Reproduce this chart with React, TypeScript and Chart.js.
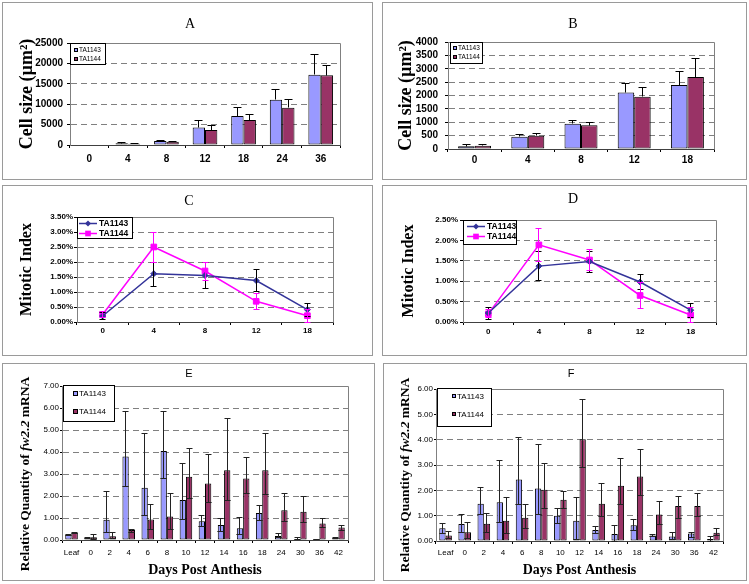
import React, { useEffect, useRef } from 'react';
import { Chart, registerables } from 'chart.js';

Chart.register(...registerables);

const SERIF = '"Liberation Serif", "Times New Roman", Times, serif';
const SANS = '"Liberation Sans", Arial, Helvetica, sans-serif';

const SERIES_1 = 'TA1143';
const SERIES_2 = 'TA1144';
const BAR_1 = '#9999FF';
const BAR_2 = '#993366';
const LINE_1 = '#333399';
const LINE_2 = '#FF00FF';

// ---------- Panel A: cell size (µm²) ----------
const A_DAYS = ['0', '4', '8', '12', '18', '24', '36'];
const A_TA1143 = [0, 450, 1000, 4300, 7100, 11100, 17200];
const A_TA1143_HI = [0, 600, 1150, 5900, 9200, 13600, 22100];
const A_TA1144 = [0, 300, 800, 3650, 6100, 9100, 17100];
const A_TA1144_HI = [0, 420, 950, 4900, 7500, 11100, 19600];
const A_Y_MAX = 25000;
const A_Y_STEP = 5000;

// ---------- Panel B: cell size (µm²) ----------
const B_DAYS = ['0', '4', '8', '12', '18'];
const B_TA1143 = [100, 460, 940, 2110, 2390];
const B_TA1143_HI = [160, 550, 1060, 2460, 2900];
const B_TA1144 = [120, 500, 890, 1950, 2690];
const B_TA1144_HI = [160, 590, 990, 2300, 3400];
const B_Y_MAX = 4000;
const B_Y_STEP = 500;

// ---------- Panel C: mitotic index (%) ----------
const C_DAYS = ['0', '4', '8', '12', '18'];
const C_TA1143 = [0.2, 1.61, 1.55, 1.38, 0.41];
const C_TA1143_LO = [0.07, 1.2, 1.12, 1.01, 0.2];
const C_TA1143_HI = [0.33, 2.0, 1.97, 1.74, 0.62];
const C_TA1144 = [0.25, 2.5, 1.7, 0.69, 0.21];
const C_TA1144_LO = [0.15, 2.0, 1.4, 0.43, 0.0];
const C_TA1144_HI = [0.35, 3.0, 2.0, 0.95, 0.42];
const C_Y_MAX = 3.5;
const C_Y_STEP = 0.5;

// ---------- Panel D: mitotic index (%) ----------
const D_DAYS = ['0', '4', '8', '12', '18'];
const D_TA1143 = [0.22, 1.37, 1.48, 0.98, 0.29];
const D_TA1143_LO = [0.05, 1.02, 1.22, 0.8, 0.1];
const D_TA1143_HI = [0.35, 1.72, 1.72, 1.17, 0.46];
const D_TA1144 = [0.2, 1.89, 1.52, 0.65, 0.17];
const D_TA1144_LO = [0.1, 1.48, 1.27, 0.33, 0.0];
const D_TA1144_HI = [0.3, 2.3, 1.77, 0.97, 0.35];
const D_Y_MAX = 2.5;
const D_Y_STEP = 0.5;

// ---------- Panel E: relative quantity of fw2.2 mRNA ----------
const E_DAYS = ['Leaf', '0', '2', '4', '6', '8', '10', '12', '14', '16', '18', '24', '30', '36', '42'];
const E_TA1143 = [0.25, 0.08, 0.92, 3.8, 2.38, 4.05, 1.82, 0.85, 0.68, 0.53, 1.23, 0.18, 0.05, 0.02, 0.08];
const E_TA1143_HI = [0.27, 0.1, 2.2, 5.85, 4.85, 5.85, 3.5, 1.1, 1.0, 1.02, 1.55, 0.3, 0.1, 0.03, 0.12];
const E_TA1143_LO = [0.22, 0.05, 0.35, 2.45, 1.1, 2.8, 0.95, 0.6, 0.4, 0.25, 0.9, 0.1, 0.02, 0.01, 0.05];
const E_TA1144 = [0.32, 0.12, 0.17, 0.45, 0.93, 1.07, 2.88, 2.57, 3.17, 2.8, 3.17, 1.35, 1.28, 0.75, 0.57];
const E_TA1144_HI = [0.34, 0.25, 0.35, 0.5, 1.63, 2.12, 4.15, 3.9, 5.53, 3.75, 4.85, 2.12, 2.0, 0.97, 0.68];
const E_TA1144_LO = [0.3, 0.02, 0.05, 0.35, 0.5, 0.5, 1.9, 1.7, 1.8, 2.1, 2.05, 0.85, 0.8, 0.55, 0.45];
const E_Y_MAX = 7;
const E_Y_STEP = 1;

// ---------- Panel F: relative quantity of fw2.2 mRNA ----------
const F_DAYS = ['Leaf', '0', '2', '4', '6', '8', '10', '12', '14', '16', '18', '24', '30', '36', '42'];
const F_TA1143 = [0.5, 0.67, 1.47, 1.53, 2.43, 2.07, 1.0, 0.8, 0.43, 0.28, 0.62, 0.22, 0.18, 0.3, 0.08];
const F_TA1143_HI = [0.68, 1.03, 2.12, 3.18, 4.08, 3.82, 1.28, 1.72, 0.57, 0.62, 0.85, 0.25, 0.33, 0.33, 0.18];
const F_TA1143_LO = [0.3, 0.35, 1.05, 0.72, 1.45, 1.05, 0.7, 0.05, 0.3, 0.0, 0.4, 0.18, 0.05, 0.15, 0.0];
const F_TA1144 = [0.22, 0.35, 0.68, 0.8, 0.92, 2.02, 1.63, 4.02, 1.47, 2.18, 2.55, 1.05, 1.38, 1.38, 0.33];
const F_TA1144_HI = [0.38, 0.73, 1.07, 1.72, 1.45, 3.07, 1.97, 5.6, 2.28, 3.27, 3.63, 1.57, 1.75, 1.87, 0.5];
const F_TA1144_LO = [0.1, 0.1, 0.35, 0.3, 0.5, 1.3, 1.3, 2.9, 0.95, 1.45, 1.8, 0.65, 0.9, 0.95, 0.2];
const F_Y_MAX = 6;
const F_Y_STEP = 1;

const fmtInt = (v: number) => String(Math.round(v));
const fmtPct = (v: number) => v.toFixed(2) + '%';
const fmt2 = (v: number) => v.toFixed(2);

type FontSpec = { family: string; size: number; weight: string };
type Spec = {
  panel: { x: number; y: number; w: number; h: number };
  plot: { l: number; t: number; r: number; b: number };
  title: { text: string; cx: number; cy: number; size: number; family: string };
  yTitle?: { text: string; cx: number; size: number };
  yLabelRight: number;
  yTickLen: number;
  yTickFont: FontSpec;
  xLabelCy: number;
  xTickLen: number;
  xTickFont: FontSpec;
  xTitle?: { text: string; cy: number; size: number };
};

// ---------- plugins ----------
const framePlugin = {
  id: 'plotFrame',
  beforeDatasetsDraw(chart: any) {
    const { ctx, chartArea: ca } = chart;
    const r = Math.round(ca.right - 0.5) + 0.5;
    const t = Math.round(ca.top - 0.5) + 0.5;
    const b = Math.round(ca.bottom - 0.5) + 0.5;
    const l = Math.round(ca.left - 0.5) + 0.5;
    ctx.save();
    ctx.strokeStyle = '#808080';
    ctx.lineWidth = 1;
    ctx.beginPath();
    ctx.moveTo(l, t);
    ctx.lineTo(r, t);
    ctx.lineTo(r, b);
    ctx.stroke();
    ctx.restore();
  },
};

const errorBarPlugin = {
  id: 'errorBars',
  afterDatasetsDraw(chart: any) {
    const ctx = chart.ctx;
    const ys = chart.scales.y;
    chart.data.datasets.forEach((ds: any, i: number) => {
      if (!ds.errHi) return;
      const meta = chart.getDatasetMeta(i);
      ctx.save();
      ctx.strokeStyle = ds.errColor || '#000';
      ctx.lineWidth = 1;
      meta.data.forEach((el: any, j: number) => {
        const v = ds.data[j];
        const hi = ds.errHi[j];
        const lo = ds.errLo ? ds.errLo[j] : v;
        if (hi === lo) return;
        const x = Math.round(el.x - 0.5) + 0.5;
        const yHi = Math.round(ys.getPixelForValue(hi) - 0.5) + 0.5;
        const yLo = Math.round(ys.getPixelForValue(lo) - 0.5) + 0.5;
        const cap = ds.errCap || 6;
        ctx.beginPath();
        ctx.moveTo(x, yLo);
        ctx.lineTo(x, yHi);
        ctx.moveTo(x - cap / 2, yHi);
        ctx.lineTo(x + cap / 2, yHi);
        if (ds.errLo) {
          const capLo = ds.errCapLo === 'bar' && el.width ? el.width : cap;
          ctx.moveTo(x - capLo / 2, yLo);
          ctx.lineTo(x + capLo / 2, yLo);
        }
        ctx.stroke();
      });
      ctx.restore();
    });
  },
};

function makePanelTitlePlugin(s: Spec) {
  return {
    id: 'panelTitle',
    afterDraw(chart: any) {
      const ctx = chart.ctx;
      ctx.save();
      ctx.fillStyle = '#000';
      ctx.font = `${s.title.size}px ${s.title.family}`;
      ctx.textAlign = 'center';
      ctx.textBaseline = 'middle';
      ctx.fillText(s.title.text, s.title.cx - s.panel.x, s.title.cy - s.panel.y);
      ctx.restore();
    },
  };
}

type LegendCfg = {
  kind: 'rect' | 'line';
  dx: number; dy: number; w: number; h: number;
  rows: number[];
  textDx: number;
  font: string;
  markerDx?: number; marker?: number;
  lineDx1?: number; lineDx2?: number;
};

function makeLegendPlugin(cfg: LegendCfg) {
  return {
    id: 'boxLegend',
    afterDraw(chart: any) {
      const { ctx, chartArea: ca } = chart;
      const x0 = Math.round(ca.left + cfg.dx) + 0.5;
      const y0 = Math.round(ca.top + cfg.dy) + 0.5;
      ctx.save();
      ctx.fillStyle = '#fff';
      ctx.fillRect(x0, y0, cfg.w, cfg.h);
      ctx.strokeStyle = '#000';
      ctx.lineWidth = 1;
      ctx.strokeRect(x0, y0, cfg.w, cfg.h);
      chart.data.datasets.forEach((ds: any, i: number) => {
        const ry = Math.round(ca.top + cfg.dy + cfg.rows[i]);
        if (cfg.kind === 'rect') {
          const s = cfg.marker || 4;
          const mx = Math.round(ca.left + (cfg.markerDx || 0));
          const my = Math.round(ry - s / 2);
          ctx.fillStyle = ds.backgroundColor;
          ctx.fillRect(mx, my, s, s);
          ctx.strokeStyle = '#000';
          ctx.lineWidth = 1;
          ctx.strokeRect(mx + 0.5, my + 0.5, s - 1, s - 1);
        } else {
          const x1 = ca.left + (cfg.lineDx1 || 0);
          const x2 = ca.left + (cfg.lineDx2 || 0);
          const cy = ry + 0.5;
          ctx.strokeStyle = ds.borderColor;
          ctx.lineWidth = 1.5;
          ctx.beginPath();
          ctx.moveTo(x1, cy);
          ctx.lineTo(x2, cy);
          ctx.stroke();
          const mx = (x1 + x2) / 2;
          const r = ds.pointRadius || 3;
          ctx.fillStyle = ds.pointBackgroundColor;
          ctx.beginPath();
          if (ds.pointStyle === 'rectRot') {
            ctx.moveTo(mx, cy - r);
            ctx.lineTo(mx + r, cy);
            ctx.lineTo(mx, cy + r);
            ctx.lineTo(mx - r, cy);
            ctx.closePath();
          } else {
            const h = r * Math.SQRT1_2;
            ctx.rect(mx - h, cy - h, 2 * h, 2 * h);
          }
          ctx.fill();
        }
        ctx.fillStyle = '#000';
        ctx.font = cfg.font;
        ctx.textAlign = 'left';
        ctx.textBaseline = 'middle';
        ctx.fillText(ds.label, Math.round(ca.left + cfg.textDx), ry + 0.5);
      });
      ctx.restore();
    },
  };
}

type RichPart = { text: string; style: string };
function makeRichYTitlePlugin(x: number, y: number, size: number, parts: RichPart[]) {
  return {
    id: 'richYTitle',
    afterDraw(chart: any) {
      const ctx = chart.ctx;
      ctx.save();
      ctx.translate(x, y);
      ctx.rotate(-Math.PI / 2);
      ctx.fillStyle = '#000';
      ctx.textBaseline = 'middle';
      ctx.textAlign = 'left';
      let total = 0;
      parts.forEach((p) => {
        ctx.font = `${p.style} ${size}px ${SERIF}`;
        total += ctx.measureText(p.text).width;
      });
      let cx = -total / 2;
      parts.forEach((p) => {
        ctx.font = `${p.style} ${size}px ${SERIF}`;
        ctx.fillText(p.text, cx, 0);
        cx += ctx.measureText(p.text).width;
      });
      ctx.restore();
    },
  };
}

function makeOptions(s: Spec, yMax: number, yStep: number, yFmt: (v: number) => string) {
  const W = s.panel.w;
  const H = s.panel.h;
  const pl = s.plot.l - s.panel.x;
  const pt = s.plot.t - s.panel.y;
  const pr = s.plot.r - s.panel.x;
  const pb = s.plot.b - s.panel.y;
  const padL = s.yTitle ? s.yTitle.cx - s.panel.x - s.yTitle.size / 2 - 1 : 2;
  const padR = W - pr;
  const padB = s.xTitle ? H - (s.xTitle.cy - s.panel.y) - s.xTitle.size / 2 : 0;
  const yWidth = pl - padL;
  const xHeight = H - padB - pb;
  const yTitlePad = s.yTitle ? s.yTitle.cx - s.panel.x - padL - s.yTitle.size / 2 : 0;
  const yTickPad = pl - s.yTickLen - (s.yLabelRight - s.panel.x);
  const xTickPad = s.xLabelCy - s.panel.y - pb - s.xTickLen - s.xTickFont.size / 2;
  return {
    responsive: false,
    maintainAspectRatio: false,
    animation: false,
    devicePixelRatio: 1,
    events: [],
    layout: { padding: { left: padL, right: padR, top: pt, bottom: padB } },
    plugins: {
      legend: { display: false },
      tooltip: { enabled: false },
      title: { display: false },
    },
    scales: {
      x: {
        offset: true,
        grid: {
          display: true,
          offset: true,
          drawOnChartArea: false,
          drawTicks: s.xTickLen > 0,
          tickLength: s.xTickLen,
          tickColor: '#000',
          tickWidth: 1,
        },
        border: { display: true, color: '#404040', width: 1 },
        ticks: {
          color: '#000',
          font: { ...s.xTickFont, lineHeight: 1 },
          padding: xTickPad,
          maxRotation: 0,
          minRotation: 0,
          autoSkip: false,
        },
        title: s.xTitle
          ? {
              display: true,
              text: s.xTitle.text,
              color: '#000',
              font: { family: SERIF, size: s.xTitle.size, weight: 'bold', lineHeight: 1 },
              padding: 0,
            }
          : { display: false },
        afterFit: (sc: any) => {
          sc.height = xHeight;
        },
      },
      y: {
        min: 0,
        max: yMax,
        grid: {
          color: '#808080',
          lineWidth: 1,
          drawTicks: s.yTickLen > 0,
          tickLength: s.yTickLen,
          tickColor: '#000',
          tickBorderDash: [],
        },
        border: { display: true, color: '#808080', width: 1, dash: [6, 4] },
        ticks: {
          stepSize: yStep,
          color: '#000',
          font: { ...s.yTickFont, lineHeight: 1 },
          padding: yTickPad,
          callback: (v: any) => yFmt(Number(v)),
        },
        title: s.yTitle
          ? {
              display: true,
              text: s.yTitle.text,
              color: '#000',
              font: { family: SERIF, size: s.yTitle.size, weight: 'bold', lineHeight: 1 },
              padding: { top: yTitlePad, bottom: 0 },
            }
          : { display: false },
        afterFit: (sc: any) => {
          sc.width = yWidth;
        },
      },
    },
  };
}

function barDatasets(
  s1: number[], s1hi: number[], s1lo: number[] | null,
  s2: number[], s2hi: number[], s2lo: number[] | null,
  catPct: number, cap: number, errColor: string
) {
  const common = {
    borderColor: '#000',
    borderWidth: 1,
    borderSkipped: false,
    categoryPercentage: catPct,
    barPercentage: 1,
    errCap: cap,
    errCapLo: 'bar',
    errColor,
  };
  return [
    { ...common, label: SERIES_1, data: s1, backgroundColor: BAR_1, errHi: s1hi, errLo: s1lo },
    { ...common, label: SERIES_2, data: s2, backgroundColor: BAR_2, errHi: s2hi, errLo: s2lo },
  ];
}

function lineDatasets(
  s1: number[], s1lo: number[], s1hi: number[],
  s2: number[], s2lo: number[], s2hi: number[]
) {
  return [
    {
      label: SERIES_1, data: s1, borderColor: LINE_1, backgroundColor: LINE_1, borderWidth: 1.5,
      pointStyle: 'rectRot', pointRadius: 3, pointBackgroundColor: LINE_1, pointBorderColor: LINE_1,
      pointBorderWidth: 1, tension: 0, fill: false, errHi: s1hi, errLo: s1lo, errCap: 6, errColor: '#000',
    },
    {
      label: SERIES_2, data: s2, borderColor: LINE_2, backgroundColor: LINE_2, borderWidth: 1.5,
      pointStyle: 'rect', pointRadius: 4, pointBackgroundColor: LINE_2, pointBorderColor: LINE_2,
      pointBorderWidth: 1, tension: 0, fill: false, errHi: s2hi, errLo: s2lo, errCap: 6, errColor: LINE_2,
    },
  ];
}

// ---------- layout specs ----------
const BOLD10 = { family: SANS, size: 10, weight: 'bold' };
const BOLD8 = { family: SANS, size: 8, weight: 'bold' };
const SMALL8 = { family: SANS, size: 8, weight: 'normal' };

const SPEC_A: Spec = {
  panel: { x: 2, y: 2, w: 371, h: 178 },
  plot: { l: 70, t: 43, r: 340, b: 145 },
  title: { text: 'A', cx: 190, cy: 24, size: 14, family: SERIF },
  yTitle: { text: 'Cell size (µm²)', cx: 27, size: 18 },
  yLabelRight: 63, yTickLen: 3, yTickFont: BOLD10,
  xLabelCy: 159, xTickLen: 3, xTickFont: BOLD10,
};
const SPEC_B: Spec = {
  panel: { x: 382, y: 2, w: 365, h: 178 },
  plot: { l: 448, t: 42, r: 714, b: 149 },
  title: { text: 'B', cx: 573, cy: 24, size: 14, family: SERIF },
  yTitle: { text: 'Cell size (µm²)', cx: 406, size: 18 },
  yLabelRight: 438, yTickLen: 3, yTickFont: BOLD10,
  xLabelCy: 160, xTickLen: 3, xTickFont: BOLD10,
};
const SPEC_C: Spec = {
  panel: { x: 2, y: 185, w: 371, h: 171 },
  plot: { l: 77, t: 217, r: 333, b: 322 },
  title: { text: 'C', cx: 189, cy: 201, size: 14, family: SERIF },
  yTitle: { text: 'Mitotic Index', cx: 27, size: 16 },
  yLabelRight: 73, yTickLen: 3, yTickFont: BOLD8,
  xLabelCy: 331, xTickLen: 3, xTickFont: BOLD8,
};
const SPEC_D: Spec = {
  panel: { x: 382, y: 185, w: 365, h: 171 },
  plot: { l: 463, t: 220, r: 716, b: 322 },
  title: { text: 'D', cx: 573, cy: 199, size: 14, family: SERIF },
  yTitle: { text: 'Mitotic Index', cx: 409, size: 16 },
  yLabelRight: 458, yTickLen: 3, yTickFont: BOLD8,
  xLabelCy: 332, xTickLen: 3, xTickFont: BOLD8,
};
const SPEC_E: Spec = {
  panel: { x: 2, y: 363, w: 373, h: 218 },
  plot: { l: 62, t: 386, r: 348, b: 540 },
  title: { text: 'E', cx: 189, cy: 374, size: 11, family: SANS },
  yLabelRight: 59, yTickLen: 2, yTickFont: SMALL8,
  xLabelCy: 553, xTickLen: 3, xTickFont: SMALL8,
  xTitle: { text: 'Days Post Anthesis', cy: 570, size: 14 },
};
const SPEC_F: Spec = {
  panel: { x: 383, y: 363, w: 364, h: 218 },
  plot: { l: 436, t: 389, r: 723, b: 541 },
  title: { text: 'F', cx: 571, cy: 374, size: 11, family: SANS },
  yLabelRight: 433, yTickLen: 2, yTickFont: SMALL8,
  xLabelCy: 553, xTickLen: 3, xTickFont: SMALL8,
  xTitle: { text: 'Days Post Anthesis', cy: 570, size: 14 },
};

const FW_TITLE: RichPart[] = [
  { text: 'Relative Quantity of ', style: 'bold' },
  { text: 'fw2.2', style: 'italic bold' },
  { text: ' mRNA', style: 'bold' },
];

const PANELS: { id: string; spec: Spec; make: () => any }[] = [
  {
    id: 'A',
    spec: SPEC_A,
    make: () => ({
      type: 'bar',
      data: { labels: A_DAYS, datasets: barDatasets(A_TA1143, A_TA1143_HI, null, A_TA1144, A_TA1144_HI, null, 0.64, 8, '#000') },
      options: makeOptions(SPEC_A, A_Y_MAX, A_Y_STEP, fmtInt),
      plugins: [
        framePlugin, errorBarPlugin, makePanelTitlePlugin(SPEC_A),
        makeLegendPlugin({ kind: 'rect', dx: 0, dy: 0, w: 35, h: 21, rows: [7, 16], markerDx: 4, marker: 4, textDx: 9, font: `6.5px ${SANS}` }),
      ],
    }),
  },
  {
    id: 'B',
    spec: SPEC_B,
    make: () => ({
      type: 'bar',
      data: { labels: B_DAYS, datasets: barDatasets(B_TA1143, B_TA1143_HI, null, B_TA1144, B_TA1144_HI, null, 0.62, 8, '#000') },
      options: makeOptions(SPEC_B, B_Y_MAX, B_Y_STEP, fmtInt),
      plugins: [
        framePlugin, errorBarPlugin, makePanelTitlePlugin(SPEC_B),
        makeLegendPlugin({ kind: 'rect', dx: 2, dy: 0, w: 32, h: 21, rows: [6, 15], markerDx: 5, marker: 4, textDx: 10, font: `6.5px ${SANS}` }),
      ],
    }),
  },
  {
    id: 'C',
    spec: SPEC_C,
    make: () => ({
      type: 'line',
      data: { labels: C_DAYS, datasets: lineDatasets(C_TA1143, C_TA1143_LO, C_TA1143_HI, C_TA1144, C_TA1144_LO, C_TA1144_HI) },
      options: makeOptions(SPEC_C, C_Y_MAX, C_Y_STEP, fmtPct),
      plugins: [
        framePlugin, errorBarPlugin, makePanelTitlePlugin(SPEC_C),
        makeLegendPlugin({ kind: 'line', dx: 0, dy: 0, w: 55, h: 21, rows: [5.5, 15.5], lineDx1: 2, lineDx2: 20, textDx: 22, font: `bold 8.5px ${SANS}` }),
      ],
    }),
  },
  {
    id: 'D',
    spec: SPEC_D,
    make: () => ({
      type: 'line',
      data: { labels: D_DAYS, datasets: lineDatasets(D_TA1143, D_TA1143_LO, D_TA1143_HI, D_TA1144, D_TA1144_LO, D_TA1144_HI) },
      options: makeOptions(SPEC_D, D_Y_MAX, D_Y_STEP, fmtPct),
      plugins: [
        framePlugin, errorBarPlugin, makePanelTitlePlugin(SPEC_D),
        makeLegendPlugin({ kind: 'line', dx: 0, dy: 0, w: 53, h: 24, rows: [6, 16], lineDx1: 4, lineDx2: 22, textDx: 24, font: `bold 8.5px ${SANS}` }),
      ],
    }),
  },
  {
    id: 'E',
    spec: SPEC_E,
    make: () => ({
      type: 'bar',
      data: { labels: E_DAYS, datasets: barDatasets(E_TA1143, E_TA1143_HI, E_TA1143_LO, E_TA1144, E_TA1144_HI, E_TA1144_LO, 0.66, 6, '#222') },
      options: makeOptions(SPEC_E, E_Y_MAX, E_Y_STEP, fmt2),
      plugins: [
        framePlugin, errorBarPlugin, makePanelTitlePlugin(SPEC_E),
        makeLegendPlugin({ kind: 'rect', dx: 1, dy: -1, w: 51, h: 36, rows: [8, 26], markerDx: 11, marker: 5, textDx: 17, font: `8px ${SANS}` }),
        makeRichYTitlePlugin(24, 111, 13.5, FW_TITLE),
      ],
    }),
  },
  {
    id: 'F',
    spec: SPEC_F,
    make: () => ({
      type: 'bar',
      data: { labels: F_DAYS, datasets: barDatasets(F_TA1143, F_TA1143_HI, F_TA1143_LO, F_TA1144, F_TA1144_HI, F_TA1144_LO, 0.66, 6, '#222') },
      options: makeOptions(SPEC_F, F_Y_MAX, F_Y_STEP, fmt2),
      plugins: [
        framePlugin, errorBarPlugin, makePanelTitlePlugin(SPEC_F),
        makeLegendPlugin({ kind: 'rect', dx: 1, dy: -1, w: 54, h: 38, rows: [8, 26], markerDx: 16, marker: 4, textDx: 21, font: `8px ${SANS}` }),
        makeRichYTitlePlugin(23, 112, 13.5, FW_TITLE),
      ],
    }),
  },
];

function Panel({ spec, make }: { spec: Spec; make: () => any }) {
  const ref = useRef<HTMLCanvasElement | null>(null);
  useEffect(() => {
    if (!ref.current) return;
    const chart = new Chart(ref.current, make());
    return () => chart.destroy();
  }, []);
  const { x, y, w, h } = spec.panel;
  return (
    <div style={{ position: 'absolute', left: x, top: y, width: w, height: h }}>
      <div
        style={{
          position: 'absolute', left: 0, top: 0, width: w, height: h,
          boxSizing: 'border-box', border: '1px solid #9a9a9a',
        }}
      />
      <canvas
        ref={ref}
        width={w}
        height={h}
        style={{ position: 'absolute', left: 0, top: 0, width: w, height: h }}
      />
    </div>
  );
}

export default function App() {
  return (
    <div
      style={{
        position: 'absolute', left: 0, top: 0, width: 749, height: 584,
        background: '#fff', overflow: 'hidden',
      }}
    >
      {PANELS.map((p) => (
        <Panel key={p.id} spec={p.spec} make={p.make} />
      ))}
    </div>
  );
}
